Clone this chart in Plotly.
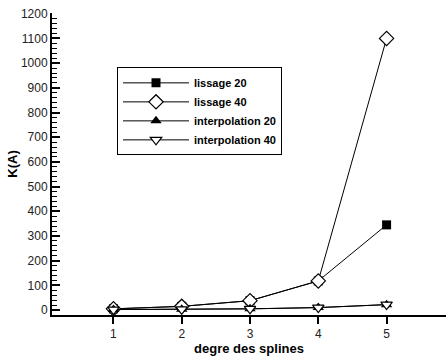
import plotly.graph_objects as go

degres = [1, 2, 3, 4, 5]
lissage_20 = [5, 15, 38, 118, 345]
lissage_40 = [5, 15, 38, 118, 1100]
interpolation_20 = [2, 3, 5, 10, 22]
interpolation_40 = [2, 3, 5, 10, 22]

y_ticks = list(range(0, 1201, 100))

FONT = "Liberation Sans, Arial, sans-serif"

fig = go.Figure()
fig.add_trace(go.Scatter(x=degres, y=lissage_20, name="lissage 20", mode="lines+markers",
                         line=dict(color="black", width=1),
                         marker=dict(symbol="square", size=9, color="black")))
fig.add_trace(go.Scatter(x=degres, y=lissage_40, name="lissage 40", mode="lines+markers",
                         line=dict(color="black", width=1),
                         marker=dict(symbol="diamond", size=11, color="white",
                                     line=dict(color="black", width=1.2))))
fig.add_trace(go.Scatter(x=degres, y=interpolation_20, name="interpolation 20", mode="lines+markers",
                         line=dict(color="black", width=1),
                         marker=dict(symbol="triangle-up", size=10, color="black")))
fig.add_trace(go.Scatter(x=degres, y=interpolation_40, name="interpolation 40", mode="lines+markers",
                         line=dict(color="black", width=1),
                         marker=dict(symbol="triangle-down", size=10, color="white",
                                     line=dict(color="black", width=1.2))))

fig.update_layout(
    width=446, height=358,
    margin=dict(l=52, r=0, t=13, b=43),
    paper_bgcolor="white", plot_bgcolor="white",
    font=dict(family=FONT, color="black"),
    showlegend=True,
    legend=dict(x=0.165, y=0.82, xanchor="left", yanchor="top",
                bgcolor="white", bordercolor="black", borderwidth=1,
                font=dict(family=FONT, size=11, color="black", weight="bold"),
                itemwidth=66, tracegroupgap=0),
    xaxis=dict(range=[0.1, 5.87], tickmode="array", tickvals=degres,
               ticktext=[str(d) for d in degres],
               showgrid=False, zeroline=False, showline=True, linecolor="black", linewidth=2,
               ticks="outside", ticklen=7, tickwidth=2, tickcolor="black",
               tickfont=dict(size=12, color="#222"),
               title=dict(text="<b>degre des splines</b>", font=dict(size=13), standoff=0)),
    yaxis=dict(range=[-20, 1203], tickmode="array", tickvals=y_ticks,
               showgrid=False, zeroline=False, showline=True, linecolor="black", linewidth=2,
               ticks="inside", ticklen=8, tickwidth=1.5, tickcolor="black",
               tickfont=dict(size=12, color="#222"),
               minor=dict(dtick=20, tick0=0, ticks="inside", ticklen=5, tickwidth=1, tickcolor="black"),
               title=dict(text="<b>K(A)</b>", font=dict(size=13), standoff=0)),
)

fig.write_html("out.html", config={"displayModeBar": False},
               post_script="document.body.style.margin='0';document.body.style.overflow='hidden';")
